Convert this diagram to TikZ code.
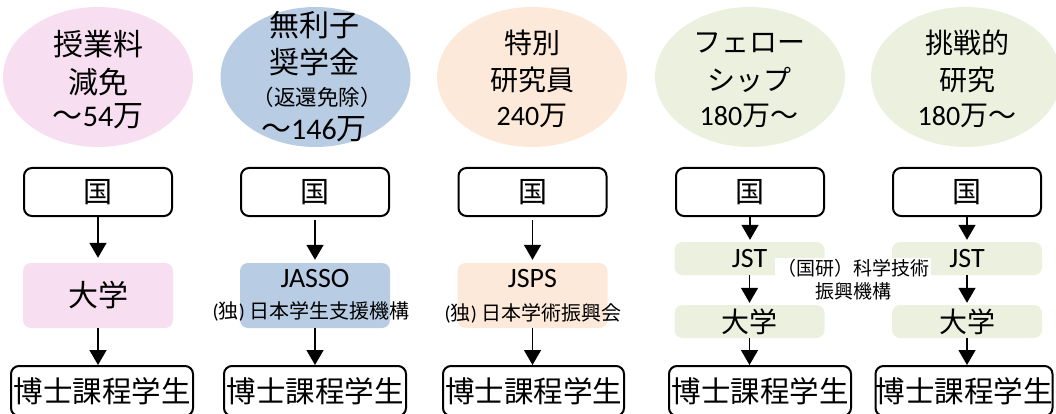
\documentclass[tikz,border=0pt]{standalone}
\usepackage{fontspec}
\setmainfont{Noto Sans CJK JP}
\newfontfamily\latfont{Carlito}
\newcommand\latn[1]{{\latfont #1}}
\usetikzlibrary{arrows.meta,shapes.geometric}
\definecolor{cpink}{RGB}{247,222,241}
\definecolor{cblue}{RGB}{184,204,228}
\definecolor{corange}{RGB}{253,233,217}
\definecolor{cgreen}{RGB}{235,241,222}
\begin{document}
\begin{tikzpicture}[x=1pt,y=-1pt,
  oval/.style={ellipse,minimum width=190pt,minimum height=140pt,inner sep=0pt},
  big/.style={font=\fontsize{30}{36}\selectfont,inner sep=0pt},
  mid/.style={font=\fontsize{28}{34}\selectfont,inner sep=0pt},
  small/.style={font=\fontsize{20}{24}\selectfont,inner sep=0pt},
  topbox/.style={draw,line width=2pt,rounded corners=8pt,minimum width=148pt,minimum height=48pt,inner sep=0pt,font=\fontsize{29}{34}\selectfont},
  midbox/.style={rounded corners=8pt,minimum width=150pt,inner sep=0pt},
  stubox/.style={draw,line width=2pt,rounded corners=8pt,minimum height=50pt,inner sep=0pt,font=\fontsize{29.5}{34}\selectfont},
  arr/.style={-{Triangle[width=17pt,length=15pt]},line width=1.5pt}]
\useasboundingbox (0,0) rectangle (1056,414);
\clip (0,0) rectangle (1056,414);
% ellipses
\node[oval,fill=cpink] (e1) at (98,77) {};
\node[oval,fill=cblue] (e2) at (315.5,77) {};
\node[oval,fill=corange] (e3) at (532,77) {};
\node[oval,fill=cgreen] (e4) at (750,77) {};
\node[oval,fill=cgreen] (e5) at (966,77) {};
% ellipse texts
\node[big] (e1a) at (98,44) {授業料};
\node[big] (e1b) at (98,82) {減免};
\node[big] (e1c) at (98,116) {～\latn{54}万};
\node[big] (e2a) at (314,25) {無利子};
\node[big] (e2b) at (314,62) {奨学金};
\node[font=\fontsize{21.5}{26}\selectfont,inner sep=0pt] (e2c) at (317,97) {（返還免除）};
\node[big] (e2d) at (314,129) {～\latn{146}万};
\node[mid] (e3a) at (532,43) {特別};
\node[mid] (e3b) at (532,80) {研究員};
\node[mid] (e3c) at (532,116) {\latn{240}万};
\node[mid] (e4a) at (749,43) {フェロー};
\node[mid] (e4b) at (749,80) {シップ};
\node[mid] (e4c) at (749,116) {\latn{180}万～};
\node[mid] (e5a) at (967,43) {挑戦的};
\node[mid] (e5b) at (967,80) {研究};
\node[mid] (e5c) at (967,116) {\latn{180}万～};
% top boxes
\node[topbox] (g1) at (98,192) {国};
\node[topbox] (g2) at (315,192) {国};
\node[topbox] (g3) at (532.5,192) {国};
\node[topbox] (g4) at (750,192) {国};
\node[topbox] (g5) at (967,192) {国};
% middle boxes
\node[midbox,fill=cpink,minimum height=65pt,font=\fontsize{30}{36}\selectfont] (m1) at (98,295.5) {大学};
\node[midbox,fill=cblue,minimum height=65pt] (m2) at (315,295.5) {};
\node[font=\fontsize{28}{34}\selectfont\latfont,inner sep=0pt] (m2a) at (315,279) {JASSO};
\node[small] (m2b) at (311,311) {\latn{(}独\latn{)} 日本学生支援機構};
\node[midbox,fill=corange,minimum height=65pt] (m3) at (532.5,295.5) {};
\node[font=\fontsize{28}{34}\selectfont\latfont,inner sep=0pt] (m3a) at (532.5,279) {JSPS};
\node[small] (m3b) at (533,313) {\latn{(}独\latn{)} 日本学術振興会};
\node[midbox,fill=cgreen,minimum height=33pt,font=\fontsize{28}{34}\selectfont\latfont] (j4) at (749.5,258.5) {JST};
\node[midbox,fill=cgreen,minimum height=33pt,font=\fontsize{28}{34}\selectfont] (u4) at (749.5,321.5) {大学};
\node[midbox,fill=cgreen,minimum height=33pt,font=\fontsize{28}{34}\selectfont\latfont] (j5) at (967,258.5) {JST};
\node[midbox,fill=cgreen,minimum height=33pt,font=\fontsize{28}{34}\selectfont] (u5) at (967,321.5) {大学};
\node[fill=white,inner sep=2pt,align=center,font=\fontsize{19}{23}\selectfont] (jstname) at (853,280) {（国研）科学技術\\振興機構};
% student boxes
\node[stubox,minimum width=182pt] (s1) at (102,391) {博士課程学生};
\node[stubox,minimum width=182pt] (s2) at (315,391) {博士課程学生};
\node[stubox,minimum width=181pt] (s3) at (533.5,391) {博士課程学生};
\node[stubox,minimum width=182pt] (s4) at (760,391) {博士課程学生};
\node[stubox,minimum width=176pt] (s5) at (964,391) {博士課程学生};
% arrows
\draw[arr,shorten >=5pt] (g1.south) -- (g1.south |- m1.north);
\draw[arr] (m1.south) -- (m1.south |- s1.north);
\draw[arr,shorten <=3pt,shorten >=3pt] (g2.south) -- (g2.south |- m2.north);
\draw[arr] (m2.south) -- (m2.south |- s2.north);
\draw[arr,shorten <=3pt,shorten >=3pt] (g3.south) -- (g3.south |- m3.north);
\draw[arr] (m3.south) -- (m3.south |- s3.north);
\draw[arr,shorten >=2pt] (g4.south) -- (g4.south |- j4.north);
\draw[arr,shorten >=2pt] (j4.south) -- (j4.south |- u4.north);
\draw[arr] (u4.south) -- (u4.south |- s4.north);
\draw[arr,shorten >=2pt] (g5.south) -- (g5.south |- j5.north);
\draw[arr,shorten >=2pt] (j5.south) -- (j5.south |- u5.north);
\draw[arr] (u5.south) -- (u5.south |- s5.north);
\end{tikzpicture}
\end{document}
